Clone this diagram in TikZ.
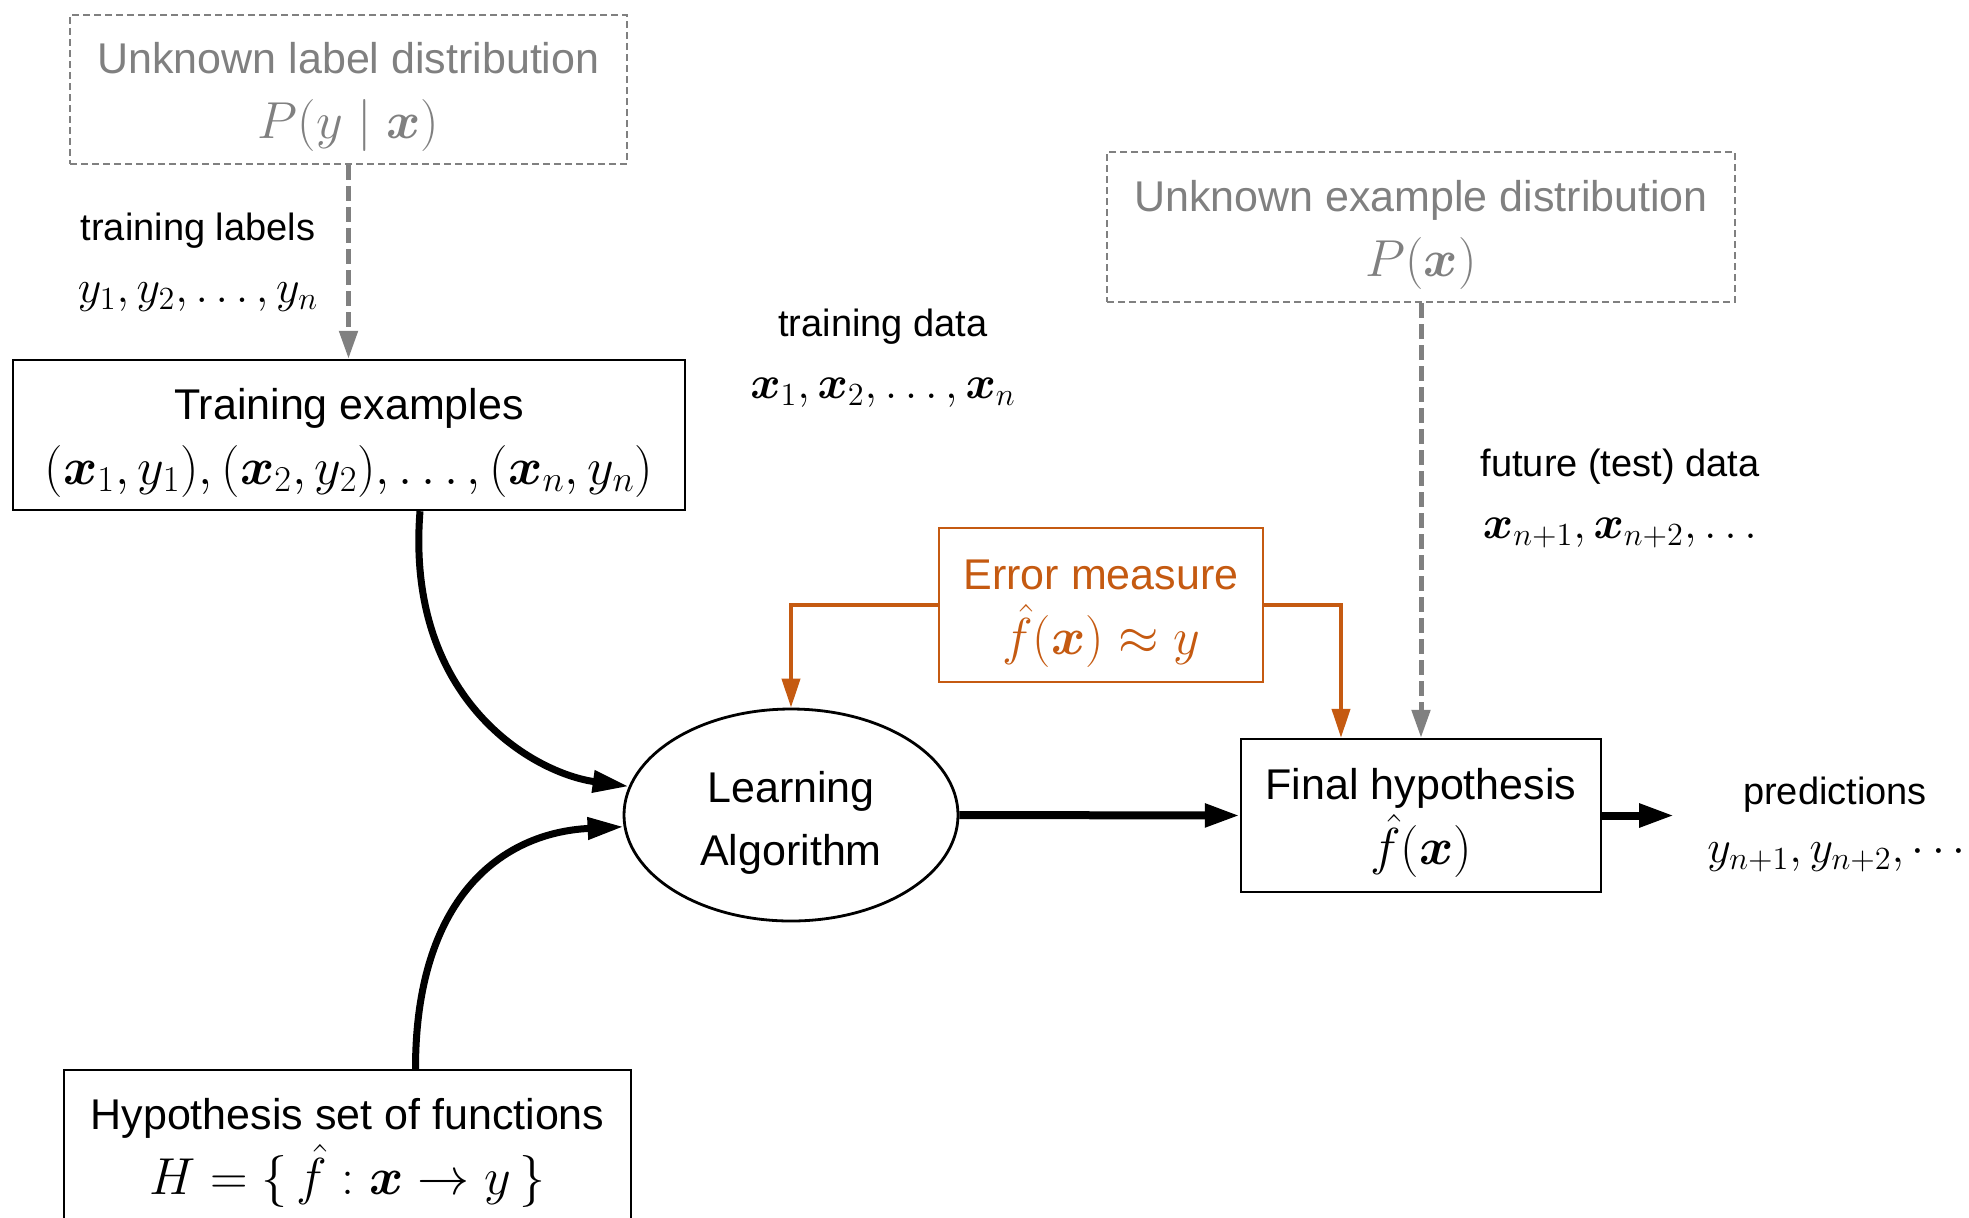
\RequirePackage{fix-cm}
\documentclass[tikz,border=0pt]{standalone}
\usepackage[no-math]{fontspec}
\setmainfont{Liberation Sans}
\usepackage{amsmath,bm}
\usetikzlibrary{arrows.meta,shapes.geometric}

\definecolor{errorange}{HTML}{C55A11}
\definecolor{distgray}{HTML}{808080}

\newcommand{\boxfont}{\fontsize{21.5}{32.5}\selectfont}
\newcommand{\labfont}{\fontsize{19}{31}\selectfont}
\newcommand{\boxmath}[1]{{\fontsize{26}{32.5}\selectfont$#1$}}
\newcommand{\labmath}[1]{{\fontsize{23}{31}\selectfont$#1$}}
% invisible struts that set the height of a first text line
\newcommand{\tallstrut}{\rule{0pt}{23pt}}
\newcommand{\shortstrut}{\rule{0pt}{18.7pt}}

\begin{document}
\begin{tikzpicture}[x=0.5pt,y=-0.5pt,
  box/.style={draw,line width=1.2pt,inner sep=0pt,align=center,font=\boxfont},
  dbox/.style={box,draw=distgray,text=distgray,line width=1pt,dash pattern=on 3.5pt off 2pt},
  ebox/.style={box,draw=errorange,text=errorange},
  lab/.style={inner sep=0pt,align=center,font=\labfont},
  gdash/.style={draw=distgray,line width=2.5pt,dash pattern=on 7.5pt off 3pt,
    -{Triangle[length=14pt,width=9pt]}},
  oarrow/.style={draw=errorange,line width=2pt,-{Triangle[length=14.5pt,width=9pt]}},
  thickarrow/.style={line width=4pt,-{Triangle[length=17.5pt,width=11pt]}},
  curvearrow/.style={line width=3.5pt,-{Triangle[length=18pt,width=10.5pt]}}]

\path[use as bounding box,clip] (0,0) rectangle (1969,1217);
\fill[white] (0,0) rectangle (1969,1217);

% boxes
\node[dbox,minimum width=278.5pt,minimum height=74.5pt] (labdist) at (348.5,89.5)
  {\tallstrut Unknown label distribution\\\boxmath{P(y\mid\bm{x})}};
\node[box,minimum width=336pt,minimum height=75pt] (train) at (349,435)
  {\tallstrut Training examples\\\boxmath{(\bm{x}_1,y_1),(\bm{x}_2,y_2),\ldots,(\bm{x}_n,y_n)}};
\node[dbox,minimum width=314pt,minimum height=75pt] (exdist) at (1421,227)
  {\tallstrut Unknown example distribution\\\boxmath{P(\bm{x})}};
\node[ebox,minimum width=162pt,minimum height=77pt] (err) at (1101,605)
  {\tallstrut Error measure\\\boxmath{\hat{f}(\bm{x})\approx y}};
\node[draw,ellipse,line width=1.4pt,minimum width=167pt,minimum height=106pt,
  inner sep=0pt,align=center,font=\fontsize{21.5}{31.5}\selectfont] (alg) at (791,815)
  {\tallstrut Learning\\Algorithm};
\node[box,minimum width=180pt,minimum height=76.5pt] (final) at (1421,815.5)
  {\tallstrut Final hypothesis\\\boxmath{\hat{f}(\bm{x})}};
\node[box,minimum width=283.5pt,minimum height=80pt] (hyp) at (347.5,1150)
  {\shortstrut Hypothesis set of functions\\\boxmath{H=\{\,\hat{f}:\bm{x}\rightarrow y\,\}}};

% free labels
\node[lab] (trlab) at (198,262) {training labels\\\labmath{y_1,y_2,\ldots,y_n}};
\node[lab] (trdata) at (883,358) {training data\\\labmath{\bm{x}_1,\bm{x}_2,\ldots,\bm{x}_n}};
\node[lab] (future) at (1620,498) {future (test) data\\\labmath{\bm{x}_{n+1},\bm{x}_{n+2},\ldots}};
\node[lab] (predt) at (1835,795) {predictions};
\node[lab,anchor=west] (predy) at (1707,857) {\labmath{y_{n+1},y_{n+2},\cdots}};

% connectors
\draw[gdash] (labdist.south) -- (labdist.south |- train.north);
\draw[gdash] (exdist.south) -- (exdist.south |- final.north);
\draw[oarrow] (err.west) -| (alg.north);
\draw[oarrow] (err.east) -| ([xshift=-40pt]final.north);
\draw[thickarrow] (alg.east) -- (final.west);
\coordinate (predtip) at ([xshift=36pt]final.east);
\draw[thickarrow] (final.east) -- (predtip);
\draw[curvearrow] ([xshift=35.5pt]train.south) .. controls +(-15,190) and +(-94,-13) .. (alg.170.5);
\draw[curvearrow] ([xshift=34pt]hyp.north) .. controls +(0,-170) and +(-123,6) .. (alg.184.8);
\end{tikzpicture}
\end{document}
